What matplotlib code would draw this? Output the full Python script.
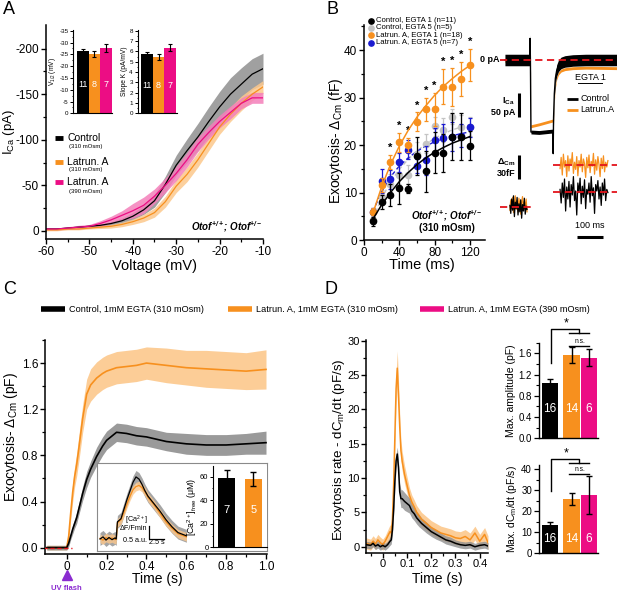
import matplotlib
matplotlib.use("Agg")
import matplotlib.pyplot as plt
from matplotlib.ticker import MultipleLocator, FixedLocator
from matplotlib.lines import Line2D
import numpy as np

# ---------------- data ----------------
# A: I-V curves (pA)
volt = [-60, -57.5, -55, -52.5, -50, -47.5, -45, -42.5, -40, -37.5, -35, -32.5,
        -30, -27.5, -25, -22.5, -20, -17.5, -15, -12.5, -10]
ica_ctrl = [-2, -2, -3, -4, -5, -6, -8, -11, -16, -23, -33, -51, -72, -88, -103,
            -120, -136, -150, -161, -172, -178]
ica_ctrl_err = [1, 1, 1, 1, 1, 1.5, 2, 3, 4, 5, 7, 9, 11, 13, 15, 16, 17, 18, 18, 17, 17]
ica_lat310 = [-1, -1, -2, -2, -3, -4, -5, -7, -10, -14, -20, -32, -49, -62, -78, -96,
              -114, -128, -140, -150, -158]
ica_lat310_err = [1, 1, 1, 1, 1, 1.5, 2, 2.5, 3, 4, 5, 6, 7, 8, 8, 8, 8, 8, 8, 7, 7]
ica_lat390 = [-2, -2, -3, -4, -5, -8, -12, -17, -22, -28, -38, -50, -63, -78, -95,
              -108, -120, -130, -140, -146, -146]
ica_lat390_err = [1, 1, 1.5, 2, 2, 3, 4, 5, 8, 9, 8, 8, 8, 8, 8, 7, 7, 7, 6, 6, 6]

groups_a = ["11", "8", "7"]
vhalf = [-26.5, -25.0, -27.6]
vhalf_err = [0.7, 1.2, 1.8]
slope_k = [5.7, 5.45, 6.35]
slope_k_err = [0.2, 0.25, 0.35]

# B: exocytosis vs depolarisation duration (fF)
dur = [10, 20, 30, 40, 50, 60, 70, 80, 90, 100, 110, 120]
cm_ctrl1 = [3.9, 8.0, 9.5, 10.9, 10.8, 17.8, 14.5, 18.4, 18.3, 21.8, 21.8, 19.9]
cm_ctrl1_err = [1.0, 1.5, 2.3, 3.3, 1.0, 4.0, 4.3, 4.3, 4.0, 5.0, 5.0, 3.0]
cm_ctrl5 = [4.2, 9.1, 11.9, 13.7, 13.8, 18.2, 20.3, 24.0, 23.2, 26.0, 23.9, 23.9]
cm_ctrl5_err = [0.8, 1.5, 2.0, 2.0, 2.0, 2.5, 2.0, 2.0, 2.5, 1.5, 2.5, 2.0]
cm_lat1 = [6.0, 11.6, 16.4, 20.6, 20.0, 24.9, 27.5, 27.5, 32.3, 32.3, 34.0, 36.8]
cm_lat1_err = [0.8, 1.5, 1.5, 2.0, 1.5, 2.0, 2.5, 3.5, 3.7, 4.0, 3.6, 3.4]
cm_lat5 = [6.0, 12.5, 12.8, 16.4, 19.0, 15.6, 16.8, 21.0, 21.5, 21.8, 22.0, 23.8]
cm_lat5_err = [0.8, 2.5, 2.0, 2.0, 2.0, 1.5, 3.0, 2.5, 3.0, 3.0, 2.5, 2.0]
fit_ctrl1 = [4.4, 7.4, 10.0, 12.3, 14.2, 15.9, 17.3, 18.5, 19.5, 20.4, 21.1, 21.8]
fit_ctrl5 = [4.5, 8.8, 12.2, 14.9, 17.0, 18.8, 20.2, 21.4, 22.4, 23.2, 23.8, 24.3]
fit_lat1 = [5.6, 11.2, 15.9, 19.8, 23.1, 25.9, 28.3, 30.5, 32.4, 34.0, 35.5, 36.8]
fit_lat5 = [6.0, 10.2, 13.3, 15.6, 17.3, 18.7, 19.8, 20.7, 21.4, 22.0, 22.4, 22.8]
star_dur = [30, 40, 50, 60, 70, 80, 90, 100, 110, 120]

# B: example traces (ms, pA)
ica_t_ctrl = [19, 114, 115.5, 117, 119, 150, 203, 204.5, 206, 209, 213, 218, 225, 235, 250, 280, 330, 450]
ica_tr_ctrl = [0, 0, 45, 0, -150, -151, -148, -195, -120, -70, -38, -22, -12, -6, -3, -1, 0, 0]
ica_tr_ctrl_noise = [12, 12, 8, 5, 4, 4, 4, 4, 6, 8, 10, 12, 12, 12, 12, 12, 12, 12]
ica_t_lat = [19, 114, 117, 119, 150, 203, 204.5, 206, 209, 213, 218, 225, 235, 250, 280, 330, 450]
ica_tr_lat = [-2, -2, 0, -138, -134, -126, -190, -125, -85, -55, -38, -28, -22, -19, -17, -16, -17]
# capacitance traces (fF)
cm_pre_ctrl = [2, -8, 10, -4, 14, -12, 6, -2, 12, -10, 4, -6, 9, -14, 3, -5, 11, -9, 1, -3]
cm_pre_lat = [-4, 9, -2, 12, -7, 5, 14, -3, 8, -6, 11, 2, -9, 6, 13, -4, 7, -1, 10, -6]
cm_post_ctrl = [22, 5, 30, 12, 35, -5, 25, 10, 32, 0, 28, 15, 38, 8, 20, -10, 30, 18, 36, 4,
                26, 12, 34, -2, 22, 16, 30, 6, 38, 14, 24, -8, 28, 20, 33, 10, 25, 2, 30, 15,
                35, 8, 22, 18]
cm_post_lat = [48, 62, 40, 66, 50, 58, 38, 64, 45, 60, 52, 68, 42, 56, 47, 63, 39, 58, 50, 66,
               44, 60, 54, 37, 62, 49, 65, 43, 57, 51, 67, 41, 59, 46, 63, 53, 38, 61, 48, 64,
               44, 56, 50, 58]
cm_level_ctrl = 18.75
cm_level_lat = 52.5

# C: flash photolysis capacitance (pF)
c_t = [-0.1, -0.05, 0, 0.01, 0.02, 0.03, 0.04, 0.05, 0.06, 0.08, 0.1, 0.12, 0.15, 0.18,
       0.2, 0.25, 0.3, 0.35, 0.4, 0.5, 0.6, 0.7, 0.8, 0.9, 1.0]
c_ctrl = [0, 0, 0, 0.04, 0.1, 0.16, 0.21, 0.26, 0.33, 0.47, 0.59, 0.68, 0.79, 0.88, 0.93,
          1.0, 0.99, 0.97, 0.96, 0.92, 0.90, 0.89, 0.89, 0.90, 0.91]
c_ctrl_err = [0.02, 0.02, 0.02, 0.03, 0.03, 0.04, 0.04, 0.05, 0.05, 0.06, 0.07, 0.07, 0.08,
              0.08, 0.08, 0.08, 0.08, 0.08, 0.08, 0.08, 0.09, 0.09, 0.09, 0.09, 0.1]
c_lat = [0, 0, 0, 0.1, 0.3, 0.48, 0.62, 0.72, 0.85, 1.12, 1.33, 1.41, 1.47, 1.51, 1.53,
         1.56, 1.57, 1.58, 1.60, 1.58, 1.56, 1.55, 1.54, 1.53, 1.545]
c_lat_err = [0.02, 0.02, 0.02, 0.04, 0.06, 0.08, 0.09, 0.1, 0.11, 0.12, 0.13, 0.14, 0.14,
             0.14, 0.14, 0.14, 0.14, 0.14, 0.14, 0.15, 0.15, 0.16, 0.16, 0.16, 0.17]
# C inset: Ca2+ imaging (s, a.u.)
ca_t = [0, 0.5, 1, 1.5, 2, 2.5, 2.7, 2.9, 3.5, 4, 4.5, 5, 5.5, 6, 6.5, 7, 7.5, 8, 9, 10,
        11, 12, 13, 14.4]
ca_ctrl = [0.05, 0.15, 0.0, 0.12, 0.02, 0.1, 0.05, 0.85, 1.0, 1.45, 1.9, 2.3, 2.7, 2.95,
           2.85, 2.6, 2.3, 2.05, 1.7, 1.35, 0.95, 0.62, 0.35, 0.2]
ca_lat = [0.08, 0.0, 0.12, 0.05, 0.1, 0.02, 0.05, 0.8, 0.95, 1.3, 1.7, 2.05, 2.35, 2.5,
          2.55, 2.45, 2.25, 2.0, 1.65, 1.25, 0.85, 0.55, 0.3, 0.15]
ca_free = [59, 58]
ca_free_err = [7, 6]
ca_n = ["7", "5"]

# D: exocytosis rate (pF/s)
d_t = [-0.069, -0.05, -0.04, -0.03, -0.02, -0.01, 0, 0.01, 0.02, 0.03, 0.035, 0.04, 0.045,
       0.05, 0.055, 0.06, 0.065, 0.07, 0.075, 0.08, 0.09, 0.1, 0.11, 0.12, 0.13, 0.14, 0.15,
       0.16, 0.18, 0.2, 0.22, 0.24, 0.26, 0.28, 0.3, 0.32, 0.34, 0.36, 0.38, 0.4, 0.42, 0.434]
d_ctrl = [0.3, 0.2, 0.5, 0.1, 0.3, 0.0, 0.2, 0.0, 0.3, 0.8, 1.0, 2.5, 5.5, 9.5, 12.5, 13.5,
          11.5, 8.0, 7.0, 7.0, 6.6, 6.3, 6.0, 5.2, 4.8, 4.2, 3.8, 3.4, 2.8, 2.2, 1.8, 1.4,
          1.0, 0.8, 0.5, 0.3, 0.2, 0.3, 0.0, 0.2, 0.3, 0.1]
d_ctrl_err = [0.5, 0.5, 0.5, 0.5, 0.5, 0.5, 0.5, 0.5, 0.5, 0.6, 0.6, 0.7, 0.8, 1.0, 1.0,
              1.0, 1.0, 1.2, 1.3, 1.3, 1.3, 1.2, 1.1, 1.0, 1.0, 0.9, 0.9, 0.8, 0.8, 0.7,
              0.7, 0.6, 0.6, 0.6, 0.5, 0.5, 0.5, 0.5, 0.5, 0.5, 0.5, 0.5]
d_lat = [0.5, 0.3, 0.8, 0.4, 1.0, 0.6, 0.3, 0.8, 1.5, 2.2, 2.0, 4.0, 9.0, 16.0, 23.0, 26.0,
         22.0, 17.5, 14.0, 12.5, 10.5, 9.0, 7.5, 6.5, 5.8, 5.0, 4.5, 4.0, 3.4, 2.8, 2.4,
         2.0, 1.8, 1.6, 1.3, 1.2, 1.5, 1.0, 2.0, 0.8, 1.8, 0.6]
d_lat_err = [0.8, 0.8, 0.8, 0.8, 0.8, 0.8, 0.8, 0.8, 0.9, 1.0, 1.0, 1.2, 1.5, 2.0, 2.3,
             2.5, 2.2, 1.8, 1.5, 1.4, 1.3, 1.2, 1.1, 1.0, 1.0, 1.0, 1.0, 1.0, 1.0, 1.0,
             1.0, 1.0, 1.0, 1.0, 1.0, 1.0, 1.0, 1.0, 1.0, 1.0, 1.0, 1.0]
groups_d = ["16", "14", "6"]
max_amp = [1.04, 1.57, 1.52]
max_amp_err = [0.08, 0.15, 0.16]
max_rate = [13.6, 25.8, 27.8]
max_rate_err = [1.5, 2.8, 9.0]

# ---------------- style ----------------
BLACK = "#000000"
GREY = "#8f8f8f"
ORANGE = "#f7901e"
ORANGE_L = "#fcc88c"
PINK = "#ec0d84"
PINK_L = "#f47fba"
LGREY = "#c4c4c4"
BLUE = "#1a1ad0"
RED = "#e3141b"
PURPLE = "#8a2bd0"

plt.rcParams['font.family'] = ['Liberation Sans', 'DejaVu Sans']
plt.rcParams['mathtext.fontset'] = 'custom'
plt.rcParams['mathtext.rm'] = 'Liberation Sans'
plt.rcParams['mathtext.it'] = 'Liberation Sans:italic'
plt.rcParams['mathtext.bf'] = 'Liberation Sans:bold'
plt.rcParams['mathtext.default'] = 'regular'
plt.rcParams['axes.unicode_minus'] = False
plt.rcParams['axes.linewidth'] = 1.1

W, H = 617, 592
fig = plt.figure(figsize=(W / 100, H / 100), dpi=100)


def box(l, t, r, b):
    return fig.add_axes([l / W, 1 - b / H, (r - l) / W, (b - t) / H])


def ftext(x, y, s, **kw):
    kw.setdefault('ha', 'left')
    kw.setdefault('va', 'center')
    fig.text(x / W, 1 - y / H, s, **kw)


def fline(xs, ys, **kw):
    fig.add_artist(Line2D([x / W for x in xs], [1 - y / H for y in ys],
                          transform=fig.transFigure, **kw))


def style(ax, fs=8.5, lw=1.1):
    for s in ['top', 'right']:
        ax.spines[s].set_visible(False)
    for s in ['left', 'bottom']:
        ax.spines[s].set_linewidth(lw)
    ax.tick_params(which='major', length=3.5, width=lw * 0.9, labelsize=fs, pad=1.5)
    ax.tick_params(which='minor', length=2, width=lw * 0.8)


# ================= panel A =================
axA = box(46, 25, 263, 239)
style(axA)
va = np.array(volt)
for m, e, band in [(ica_ctrl, ica_ctrl_err, GREY),
                   (ica_lat310, ica_lat310_err, ORANGE_L),
                   (ica_lat390, ica_lat390_err, PINK_L)]:
    m = np.array(m); e = np.array(e)
    axA.fill_between(va, m - e, m + e, color=band, lw=0, alpha=0.85)
for m, line in [(ica_ctrl, BLACK), (ica_lat310, ORANGE), (ica_lat390, PINK)]:
    axA.plot(va, m, color=line, lw=0.9)
axA.set_xlim(-60, -10)
axA.set_ylim(9, -226)
axA.xaxis.set_major_locator(MultipleLocator(10))
axA.xaxis.set_minor_locator(MultipleLocator(5))
axA.yaxis.set_major_locator(FixedLocator([0, -50, -100, -150, -200]))
axA.yaxis.set_minor_locator(FixedLocator([-25, -75, -125, -175]))
ftext(154, 266, "Voltage (mV)", fontsize=10.5, ha='center')
ftext(9, 132, "I$_{Ca}$ (pA)", fontsize=9.5, ha='center', rotation=90)
ftext(262, 227, "Otof$^{+/+}$; Otof$^{+/-}$", fontsize=7, ha='right',
      fontweight='bold', style='italic')
# legend
for y, col, lab in [(138, BLACK, "Control"), (162, ORANGE, "Latrun. A"),
                    (182, PINK, "Latrun. A")]:
    fline([55, 63], [y, y], color=col, lw=3.5, solid_capstyle='butt')
    ftext(67, y, lab, fontsize=7.5)
for y, lab in [(147, "(310 mOsm)"), (169, "(310 mOsm)"), (191, "(390 mOsm)")]:
    ftext(69, y, lab, fontsize=4.3)

# insets
bar_cols = [BLACK, ORANGE, PINK]
axA1 = box(73.3, 30, 111.7, 113.3)
style(axA1, fs=4.5, lw=0.8)
axA1.bar(range(3), vhalf, width=1.0, color=bar_cols, yerr=vhalf_err,
         error_kw=dict(ecolor=BLACK, elinewidth=0.8, capsize=1.5, capthick=0.8))
axA1.set_xlim(-0.83, 2.5)
axA1.set_ylim(0, -35.3)
axA1.set_xticks([])
axA1.yaxis.set_major_locator(MultipleLocator(5))
axA1.yaxis.set_minor_locator(MultipleLocator(2.5))
axA1.tick_params(which='major', length=2)
axA1.tick_params(which='minor', length=1)
axA1.set_ylabel("V$_{1/2}$ (mV)", fontsize=4.8, labelpad=1)
for i, g in enumerate(groups_a):
    axA1.text(i, -12, g, color='white', fontsize=6.5, ha='center', va='center')

axA2 = box(137.7, 30, 176.7, 113.3)
style(axA2, fs=4.5, lw=0.8)
axA2.bar(range(3), slope_k, width=1.0, color=bar_cols, yerr=slope_k_err,
         error_kw=dict(ecolor=BLACK, elinewidth=0.8, capsize=1.5, capthick=0.8))
axA2.set_xlim(-0.81, 2.58)
axA2.set_ylim(0, 8.07)
axA2.set_xticks([])
axA2.yaxis.set_major_locator(MultipleLocator(1))
axA2.yaxis.set_minor_locator(MultipleLocator(0.5))
axA2.tick_params(which='major', length=2)
axA2.tick_params(which='minor', length=1)
axA2.set_ylabel("Slope K (pA/mV)", fontsize=4.8, labelpad=1)
for i, g in enumerate(groups_a):
    axA2.text(i, 2.7, g, color='white', fontsize=6.5, ha='center', va='center')

# ================= panel B =================
axB = box(364, 25, 485, 240)
style(axB)
ek = dict(capsize=1.5, elinewidth=0.9, capthick=0.9, ms=4.5)
axB.plot(dur, fit_ctrl5, color=LGREY, ls=(0, (3, 2)), lw=1.0, zorder=2)
axB.plot(dur, fit_lat5, color=BLUE, ls=(0, (3, 2)), lw=1.0, zorder=2)
axB.errorbar(dur, cm_ctrl5, yerr=cm_ctrl5_err, fmt='o', color=LGREY, zorder=3, **ek)
axB.errorbar(dur, cm_lat5, yerr=cm_lat5_err, fmt='o', color=BLUE, zorder=4, **ek)
axB.errorbar(dur, cm_ctrl1, yerr=cm_ctrl1_err, fmt='o', color=BLACK, zorder=5, **ek)
axB.errorbar(dur, cm_lat1, yerr=cm_lat1_err, fmt='o', color=ORANGE, zorder=6, **ek)
axB.plot(dur, fit_ctrl1, color=BLACK, lw=1.1, zorder=7)
axB.plot(dur, fit_lat1, color=ORANGE, lw=1.1, zorder=7)
for t in star_dur:
    i = dur.index(t)
    axB.text(t, cm_lat1[i] + cm_lat1_err[i] + 0.4, "*", fontsize=8, ha='center',
             va='bottom', fontweight='bold')
axB.set_xlim(0, 137)
axB.set_ylim(0, 45.3)
axB.xaxis.set_major_locator(MultipleLocator(40))
axB.xaxis.set_minor_locator(MultipleLocator(20))
axB.yaxis.set_major_locator(MultipleLocator(10))
axB.yaxis.set_minor_locator(MultipleLocator(5))
ftext(422, 265, "Time (ms)", fontsize=10.5, ha='center')
ftext(336, 141, "Exocytosis- Δ$_{Cm}$ (fF)", fontsize=10, ha='center', rotation=90)
ftext(447, 216, "Otof$^{+/+}$; Otof$^{+/-}$", fontsize=7, ha='center',
      fontweight='bold', style='italic')
ftext(447, 228, "(310 mOsm)", fontsize=7, ha='center', fontweight='bold')
for y, col, lab in [(20.5, BLACK, "Control, EGTA 1 (n=11)"),
                    (27.8, LGREY, "Control, EGTA 5 (n=5)"),
                    (35.2, ORANGE, "Latrun. A, EGTA 1 (n=18)"),
                    (42.6, BLUE, "Latrun. A, EGTA 5 (n=7)")]:
    fline([371], [y], color=col, marker='o', ms=3.8, ls='none')
    ftext(376, y, lab, fontsize=5.6)

# B: example traces
axT = box(500, 30, 617, 250)
axT.axis('off')
axT.set_xlim(0, 450)
axT.set_ylim(-395.8, 62.5)
lt = np.array(ica_tr_lat)
axT.fill_between(ica_t_lat, lt - 3, lt + 3, color=ORANGE, lw=0)
ct = np.array(ica_tr_ctrl); cn = np.array(ica_tr_ctrl_noise)
axT.fill_between(ica_t_ctrl, ct - cn, ct + cn, color=BLACK, lw=0)
axT.plot(ica_t_ctrl, ica_tr_ctrl, color=BLACK, lw=1.0)
axT.plot([0, 450], [0, 0], color=RED, lw=1.3, ls=(0, (4, 2.5)), zorder=5)
axT.plot([73, 73], [-68.75, -118.75], color=BLACK, lw=2.2, solid_capstyle='butt')
axT.plot([296, 396], [-368.7, -368.7], color=BLACK, lw=2.2, solid_capstyle='butt')
axT.text(346, -355, "100 ms", fontsize=6.5, ha='center', va='bottom')
axT.plot([258, 300], [-81, -81], color=BLACK, lw=2.0, solid_capstyle='butt')
axT.plot([258, 300], [-104, -104], color=ORANGE, lw=2.0, solid_capstyle='butt')
axT.text(308, -81, "Control", fontsize=6.5, va='center')
axT.text(308, -104, "Latrun.A", fontsize=6.5, va='center')
ftext(499, 60, "0 pA", fontsize=6.5, ha='right', fontweight='bold')
ftext(515, 101, "I$_{Ca}$", fontsize=6.5, ha='right', fontweight='bold')
ftext(515, 112, "50 pA", fontsize=6.5, ha='right', fontweight='bold')
ftext(515, 162, "Δ$_{Cm}$", fontsize=6.5, ha='right', fontweight='bold')
ftext(515, 173, "30fF", fontsize=6.5, ha='right', fontweight='bold')
ftext(590, 78, "EGTA 1", fontsize=6.5, ha='center')
fline([578, 602], [83, 83], color=BLACK, lw=0.7)

axM = box(500, 150, 617, 250)
axM.axis('off')
axM.set_xlim(0, 450)
axM.set_ylim(-53.75, 71.25)
pre_t = np.linspace(38, 104, len(cm_pre_ctrl))
post_t = np.linspace(231, 415, len(cm_post_ctrl))
axM.plot(pre_t, cm_pre_lat, color=ORANGE, lw=0.9)
axM.plot(pre_t, cm_pre_ctrl, color=BLACK, lw=0.9)
axM.plot(post_t, cm_post_lat, color=ORANGE, lw=0.9)
axM.plot(post_t, cm_post_ctrl, color=BLACK, lw=0.9)
axM.plot([0, 127], [0, 0], color=RED, lw=1.3, ls=(0, (4, 2.5)))
axM.plot([204, 450], [cm_level_lat, cm_level_lat], color=RED, lw=1.3, ls=(0, (4, 2.5)))
axM.plot([204, 450], [cm_level_ctrl, cm_level_ctrl], color=RED, lw=1.3, ls=(0, (4, 2.5)))
axM.plot([73, 73], [35, 65], color=BLACK, lw=2.2, solid_capstyle='butt')

# ================= panel C =================
axC = box(45, 340, 267, 554)
style(axC)
ctv = np.array(c_t)
for m, e, band in [(c_lat, c_lat_err, ORANGE_L), (c_ctrl, c_ctrl_err, GREY)]:
    m = np.array(m); e = np.array(e)
    axC.fill_between(ctv, m - e, m + e, color=band, lw=0, alpha=0.9)
axC.plot(c_t, c_lat, color=ORANGE, lw=1.2)
axC.plot(c_t, c_ctrl, color=BLACK, lw=1.2)
axC.plot([-0.12, 0.025], [0, 0], color=RED, lw=1.0, ls=(0, (3, 2)), zorder=5)
axC.set_xlim(-0.109, 1.005)
axC.set_ylim(-0.055, 1.8)
axC.xaxis.set_major_locator(FixedLocator([0, 0.2, 0.4, 0.6, 0.8, 1.0]))
axC.xaxis.set_minor_locator(FixedLocator([0.1, 0.3, 0.5, 0.7, 0.9]))
axC.set_xticklabels(["0", "0.2", "0.4", "0.6", "0.8", "1.0"])
axC.yaxis.set_major_locator(MultipleLocator(0.4))
axC.yaxis.set_minor_locator(MultipleLocator(0.2))
ftext(157, 579, "Time (s)", fontsize=10, ha='center')
ftext(11, 437, "Exocytosis- Δ$_{Cm}$ (pF)", fontsize=10, ha='center', rotation=90)
fline([66.7], [575], color=PURPLE, marker='^', ms=7, ls='none')
ftext(66.7, 588, "UV flash", fontsize=5.5, ha='center', color=PURPLE, fontweight='bold')

# legend above C/D
for x0, col, lab in [(41, BLACK, "Control, 1mM EGTA (310 mOsm)"),
                     (228, ORANGE, "Latrun. A, 1mM EGTA (310 mOsm)"),
                     (420, PINK, "Latrun. A, 1mM EGTA (390 mOsm)")]:
    fline([x0, x0 + 24], [309, 309], color=col, lw=4, solid_capstyle='butt')
    ftext(x0 + 28, 309, lab, fontsize=6.6)

# C inset frame
axI = box(97, 463, 267, 551)
axI.set_xticks([]); axI.set_yticks([])
for s in axI.spines.values():
    s.set_color("#8a8a8a"); s.set_linewidth(0.8)
axI.set_zorder(3)

axCa = box(97, 463, 190, 551)
axCa.axis('off')
axCa.set_zorder(4)
axCa.set_xlim(-0.5, 15)
axCa.set_ylim(-0.51, 3.6)
cav = np.array(ca_ctrl); lav = np.array(ca_lat)
axCa.fill_between(ca_t, cav - 0.3, cav + 0.3, color=GREY, lw=0, alpha=0.8)
axCa.fill_between(ca_t, lav - 0.2, lav + 0.2, color=ORANGE_L, lw=0, alpha=0.8)
axCa.plot(ca_t, ca_lat, color=ORANGE, lw=0.9)
axCa.plot(ca_t, ca_ctrl, color=BLACK, lw=0.9)
axCa.plot([8.2, 8.2, 10.7], [0.67, 0.07, 0.07], color=BLACK, lw=0.9)
ftext(136, 520, "[Ca$^{2+}$]", fontsize=5.2, ha='center', zorder=6)
ftext(134, 529, "ΔF/Fmin", fontsize=5.2, ha='center', zorder=6)
ftext(147, 540, "0.5 a.u.", fontsize=5.2, ha='right', zorder=6)
ftext(157, 543, "2.5 s", fontsize=5.2, ha='center', zorder=6)

axB2 = box(213.3, 466, 266.7, 547.3)
axB2.set_zorder(5)
style(axB2, fs=5.5, lw=0.8)
axB2.bar([0, 1], ca_free, width=0.63, color=[BLACK, ORANGE], yerr=ca_free_err,
         error_kw=dict(ecolor=BLACK, elinewidth=1.0, capsize=2.5, capthick=1.0))
axB2.set_xlim(-0.49, 1.49)
axB2.set_ylim(0, 69)
axB2.set_xticks([])
axB2.yaxis.set_major_locator(MultipleLocator(20))
axB2.yaxis.set_minor_locator(MultipleLocator(10))
axB2.tick_params(which='major', length=2)
axB2.tick_params(which='minor', length=1)
axB2.set_ylabel("[Ca$^{2+}$]$_{free}$ (μM)", fontsize=6.3, labelpad=1)
for i, g in enumerate(ca_n):
    axB2.text(i, 31.7, g, color='white', fontsize=8, ha='center', va='center')

# ================= panel D =================
axD = box(366, 340, 488, 553)
style(axD, fs=8)
axD.tick_params(which='major', pad=1)
dtv = np.array(d_t)
m = np.array(d_lat); e = np.array(d_lat_err)
axD.fill_between(dtv, m - e, m + e, color=ORANGE_L, lw=0, alpha=0.9)
axD.plot(dtv, m, color=ORANGE, lw=1.1)
m = np.array(d_ctrl); e = np.array(d_ctrl_err)
axD.fill_between(dtv, m - e, m + e, color=GREY, lw=0, alpha=0.8)
axD.plot(dtv, m, color=BLACK, lw=1.1)
axD.set_xlim(-0.069, 0.434)
axD.set_ylim(-0.91, 30.1)
axD.xaxis.set_major_locator(FixedLocator([0, 0.1, 0.2, 0.3, 0.4]))
axD.xaxis.set_minor_locator(FixedLocator([-0.05, 0.05, 0.15, 0.25, 0.35]))
axD.set_xticklabels(["0", "0.1", "0.2", "0.3", "0.4"])
axD.yaxis.set_major_locator(MultipleLocator(5))
axD.yaxis.set_minor_locator(MultipleLocator(2.5))
ftext(437, 579, "Time (s)", fontsize=10, ha='center')
ftext(339, 450, "Exocytosis rate - dC$_m$/dt (pF/s)", fontsize=9.6, ha='center', rotation=90)

bar_x = [0, 1.3, 2.35]
for (t, b, vals, errs, ylim, major, minor, ylab, ny, brk) in [
        (342.7, 438.3, max_amp, max_amp_err, 1.8, 0.4, 0.2, "Max. amplitude (pF)", 0.55,
         (1.41, 2.05, 1.98, 1.74)),
        (465.1, 553.3, max_rate, max_rate_err, 42, 10, 5, "Max. dC$_m$/dt (pF/s)", 7,
         (29.7, 44.8, 42.9, 37.8))]:
    ax = box(539, t, 598, b)
    style(ax, fs=7, lw=1.0)
    ax.bar(bar_x, vals, width=1.0, color=bar_cols, yerr=errs,
           error_kw=dict(ecolor=BLACK, elinewidth=1.0, capsize=2.5, capthick=1.0))
    ax.set_xlim(-0.67, 2.9)
    ax.set_ylim(0, ylim)
    ax.set_xticks([])
    ax.yaxis.set_major_locator(MultipleLocator(major))
    ax.yaxis.set_minor_locator(MultipleLocator(minor))
    ax.set_ylabel(ylab, fontsize=7.5, labelpad=2)
    for x, g in zip(bar_x, groups_d):
        ax.text(x, ny, g, color='white', fontsize=8.5, ha='center', va='center')
    y0, ytop, ygrp, yns = brk
    ax.plot([0.04, 0.04, 1.78, 1.78], [y0, ytop, ytop, ygrp], color=BLACK, lw=1.0, clip_on=False)
    ax.plot([1.17, 2.38], [ygrp, ygrp], color=BLACK, lw=1.0, clip_on=False)
    ax.plot([1.17, 2.38], [yns, yns], color=BLACK, lw=1.0, clip_on=False)
    ax.text(0.95, ytop, "*", fontsize=9, ha='center', va='bottom', clip_on=False)
    ax.text(1.78, yns + (ytop - yns) * 0.05, "n.s.", fontsize=4.8, ha='center', va='bottom',
            clip_on=False)

# panel letters
for x, y, s in [(3, 9, "A"), (327, 9, "B"), (3, 290, "C"), (325, 290, "D")]:
    ftext(x, y, s, fontsize=13)

fig.savefig("out.png", dpi=100)
